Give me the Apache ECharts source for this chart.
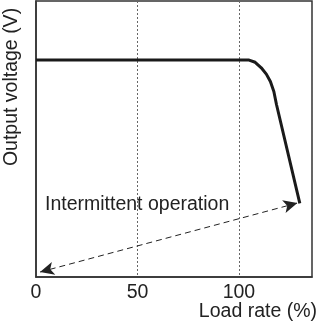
<!DOCTYPE html>
<html>
<head>
<meta charset="utf-8">
<script src="https://cdn.jsdelivr.net/npm/echarts@6/dist/echarts.min.js"></script>
<style>
  html, body { margin: 0; padding: 0; background: #fff; }
  #chart { width: 319px; height: 328px; }
</style>
</head>
<body>
<div id="chart"></div>
<script>
// load rate (%) vs output voltage (arbitrary units, no y ticks)
const loadRate = [0, 105, 108, 111, 113.5, 115.5, 117.2, 118.5, 130];
const voltage = [78.6, 78.6, 77.8, 75.8, 73.5, 70.8, 67.2, 62.5, 26.7];
const xTicks = [0, 50, 100];
// intermittent operation arrow ends
const arrowFrom = [2, 1.8];
const arrowTo = [128.8, 26.8];

const font = '"Liberation Sans", Arial, sans-serif';
const myChart = echarts.init(document.getElementById('chart'));

myChart.setOption({
  animation: false,
  grid: {
    left: 36, right: 7, top: 1, bottom: 51, outerBoundsMode: 'none', containLabel: false,
    show: true, borderColor: '#333', borderWidth: 1.5
  },
  xAxis: {
    type: 'value', min: 0, max: 136, interval: 50,
    axisLine: { show: true, lineStyle: { color: '#333', width: 1.5 } },
    axisTick: { show: false },
    axisLabel: {
      fontFamily: font, fontSize: 19.5, color: '#222', margin: 6, showMaxLabel: false,
      formatter: v => xTicks.includes(v) ? String(v) : ''
    },
    splitLine: { show: true, lineStyle: { color: '#666', type: [2, 2], width: 1 } }
  },
  yAxis: {
    type: 'value', min: 0, max: 100,
    axisLine: { show: true, lineStyle: { color: '#333', width: 1.5 } },
    axisTick: { show: false },
    axisLabel: { show: false },
    splitLine: { show: false }
  },
  series: [{
    type: 'line',
    data: loadRate.map((x, i) => [x, voltage[i]]),
    showSymbol: false,
    lineStyle: { color: '#1a1a1a', width: 3, join: 'round' },
    markLine: {
      silent: true,
      symbol: ['arrow', 'arrow'],
      symbolSize: [10, 14],
      lineStyle: { color: '#222', type: [6, 4], width: 1 },
      label: { show: false },
      data: [[{ coord: arrowFrom }, { coord: arrowTo }]]
    }
  }],
  graphic: [
    {
      type: 'text', x: 45, y: 205,
      style: { text: 'Intermittent operation', fontFamily: font, fontSize: 19.5, fill: '#222', verticalAlign: 'middle' }
    },
    {
      type: 'text', x: 317, y: 312,
      style: { text: 'Load rate (%)', fontFamily: font, fontSize: 19.5, fill: '#222', align: 'right', verticalAlign: 'middle' }
    },
    {
      type: 'text', x: 12, y: 87, rotation: Math.PI / 2,
      style: { text: 'Output voltage (V)', fontFamily: font, fontSize: 19.5, fill: '#222', align: 'center', verticalAlign: 'middle' }
    }
  ]
});
</script>
</body>
</html>
